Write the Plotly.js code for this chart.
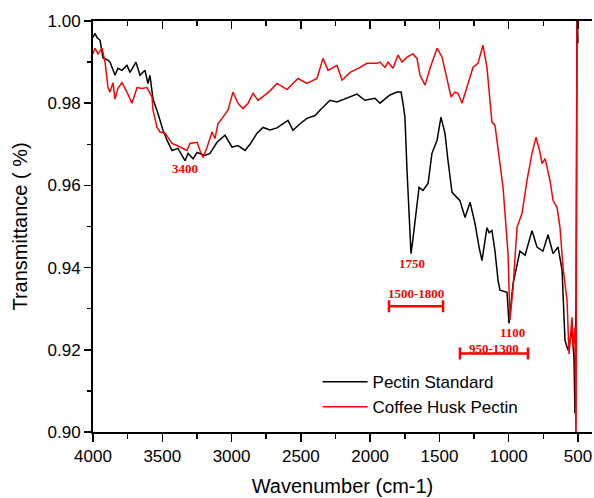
<!DOCTYPE html>
<html>
<head>
<meta charset="utf-8">
<script src="https://cdn.plot.ly/plotly-3.0.1.min.js"></script>
<style>html,body{margin:0;padding:0;background:#fff;}#chart{width:594px;height:498px;}</style>
</head>
<body>
<div id="chart"></div>
<script>
// Pectin Standard (black)
const stdWave = [4000,3986,3971,3949,3928,3892,3877,3841,3820,3791,3755,3733,3690,3661,3625,3603,3589,3567,3531,3495,3466,3430,3387,3350,3336,3314,3278,3249,3228,3192,3156,3105,3047,2997,2954,2903,2867,2816,2773,2723,2672,2593,2557,2506,2456,2398,2362,2290,2239,2167,2095,2037,1965,1929,1857,1806,1777,1763,1749,1734,1720,1705,1691,1676,1647,1619,1582,1554,1517,1489,1460,1438,1409,1352,1315,1279,1243,1214,1193,1157,1142,1121,1099,1077,1063,1012,998,969,919,882,832,796,753,716,680,644,615,594,572,558,543,529,522,514,507,500];
const stdT = [0.996,0.997,0.996,0.9953,0.991,0.9905,0.990,0.9868,0.9885,0.988,0.9892,0.9875,0.990,0.9868,0.988,0.9848,0.9868,0.981,0.9775,0.9734,0.971,0.9685,0.969,0.9666,0.966,0.9678,0.9665,0.968,0.9678,0.9673,0.9678,0.9705,0.9722,0.9693,0.9697,0.9685,0.970,0.9727,0.9741,0.9735,0.974,0.9758,0.9734,0.975,0.9763,0.977,0.9783,0.9807,0.9803,0.9812,0.9822,0.9807,0.9812,0.980,0.982,0.9827,0.9827,0.980,0.9766,0.9637,0.952,0.9434,0.947,0.9515,0.9595,0.9588,0.9605,0.9678,0.971,0.9766,0.9727,0.966,0.9583,0.9563,0.9522,0.9559,0.9507,0.945,0.9417,0.9497,0.9485,0.949,0.944,0.9369,0.9345,0.934,0.9264,0.936,0.944,0.943,0.949,0.945,0.944,0.948,0.9434,0.945,0.9394,0.9223,0.9199,0.922,0.9248,0.918,0.9045,0.931,1.003,0.9946];

// Coffee Husk Pectin (red)
const huskWave = [4000,3986,3964,3935,3913,3892,3877,3856,3841,3820,3791,3755,3719,3682,3646,3610,3574,3567,3538,3516,3480,3430,3394,3350,3322,3300,3249,3228,3206,3177,3141,3120,3098,3062,3026,2990,2954,2918,2881,2845,2809,2744,2723,2672,2600,2521,2456,2384,2340,2304,2239,2203,2145,2073,2023,1950,1929,1893,1871,1835,1799,1770,1734,1691,1662,1640,1604,1568,1517,1481,1445,1416,1388,1366,1337,1301,1258,1222,1186,1157,1121,1099,1077,1041,1005,991,969,940,904,868,832,803,774,760,738,702,680,651,630,608,579,565,543,536,522,514,507];
const huskT = [0.992,0.9934,0.992,0.9934,0.990,0.9838,0.9827,0.985,0.981,0.9836,0.985,0.9827,0.980,0.9838,0.9836,0.9838,0.9815,0.9783,0.9741,0.973,0.9727,0.9702,0.9697,0.969,0.9685,0.9702,0.9705,0.9685,0.9668,0.9693,0.973,0.9714,0.975,0.9766,0.9783,0.9827,0.980,0.9787,0.980,0.9824,0.9807,0.9824,0.983,0.9848,0.9833,0.986,0.9848,0.986,0.9909,0.988,0.9892,0.9856,0.9875,0.9887,0.9897,0.9897,0.990,0.9887,0.990,0.9885,0.9917,0.990,0.9912,0.992,0.9909,0.9868,0.9844,0.9885,0.9934,0.9912,0.986,0.9815,0.9827,0.9824,0.980,0.9838,0.9887,0.9897,0.9941,0.9887,0.9754,0.9746,0.9693,0.9595,0.9434,0.9272,0.935,0.9498,0.9532,0.9612,0.9678,0.9717,0.968,0.9653,0.9665,0.9612,0.9563,0.9546,0.9498,0.940,0.932,0.919,0.9279,0.9206,0.9255,0.893,1.01];

// Peak labels
const peakLabels = ['3400','1750','1100'];
const peakWave = [3336,1698,976];
const peakT = [0.9641,0.941,0.9243];

// Range bars
const bandLabels = ['1500-1800','950-1300'];
const bandStart = [1864,1352];
const bandEnd = [1474,861];
const bandT = [0.9306,0.9191];
const bandLabelT = [0.9337,0.9203];

const red = '#ff0000';
const bandCenter = bandStart.map((s,i)=>(s+bandEnd[i])/2);
const bandHalf = bandStart.map((s,i)=>(s-bandEnd[i])/2);

const traces = [
  {x: stdWave, y: stdT, type:'scatter', mode:'lines', name:'Pectin Standard',
   line:{color:'#000000', width:1.5}, xaxis:'x', yaxis:'y'},
  {x: huskWave, y: huskT, type:'scatter', mode:'lines', name:'Coffee Husk Pectin',
   line:{color:red, width:1.5}, xaxis:'x2', yaxis:'y'},
  {x: bandCenter, y: bandT, type:'scatter', mode:'markers', showlegend:false,
   marker:{size:0.1, color:red},
   error_x:{type:'data', array:bandHalf, symmetric:true, color:red, thickness:2.5, width:6},
   xaxis:'x', yaxis:'y', hoverinfo:'skip'}
];

const annFont = {family:'"Liberation Serif", "Times New Roman", serif', size:13, color:red, weight:'bold'};
const annotations = [];
peakLabels.forEach((t,i)=>annotations.push({x:peakWave[i], y:peakT[i], xref:'x', yref:'y', text:'<b>'+t+'</b>', showarrow:false, font:annFont}));
bandLabels.forEach((t,i)=>annotations.push({x:bandCenter[i], y:bandLabelT[i], xref:'x', yref:'y', text:'<b>'+t+'</b>', showarrow:false, font:annFont}));

const tickFont = {family:'Arial, "Liberation Sans", sans-serif', size:17, color:'#000'};
const titleFont = {family:'Arial, "Liberation Sans", sans-serif', size:20, color:'#000'};

const layout = {
  width:594, height:498,
  margin:{l:93, r:2, t:21, b:66, pad:0},
  paper_bgcolor:'#fff', plot_bgcolor:'#fff',
  showlegend:true,
  legend:{x:0.45, y:0.165, xanchor:'left', yanchor:'top', bgcolor:'rgba(0,0,0,0)',
          font:{family:'Arial, "Liberation Sans", sans-serif', size:17, color:'#000'},
          itemwidth:45, tracegroupgap:0},
  xaxis:{range:[4000,399], tick0:0, dtick:500, ticks:'outside', ticklen:8, tickwidth:1.5, tickcolor:'#000',
         showline:true, linewidth:2, linecolor:'#000', showgrid:false, zeroline:false,
         minor:{dtick:250, tick0:0, ticks:'outside', ticklen:5, tickwidth:1.5, tickcolor:'#000', showgrid:false},
         tickfont:tickFont, title:{text:'Wavenumber (cm-1)', font:titleFont, standoff:14}},
  xaxis2:{range:[4000,399], overlaying:'x', side:'top', anchor:'y', tick0:0, dtick:500, ticks:'inside', ticklen:8, tickwidth:1.5, tickcolor:'#000',
         showline:true, linewidth:2, linecolor:'#000', showgrid:false, zeroline:false, showticklabels:false,
         minor:{dtick:250, tick0:0, ticks:'inside', ticklen:5, tickwidth:1.5, tickcolor:'#000', showgrid:false}},
  yaxis:{range:[0.90,1.00], tick0:0.9, dtick:0.02, tickformat:'.2f', ticks:'outside', ticklen:7, tickwidth:1.5, tickcolor:'#000',
         showline:true, linewidth:2, linecolor:'#000', showgrid:false, zeroline:false,
         minor:{dtick:0.01, ticks:'outside', ticklen:4, tickwidth:1.5, tickcolor:'#000', showgrid:false},
         tickfont:tickFont, title:{text:'Transmittance ( %)', font:titleFont, standoff:15}},
  annotations: annotations
};

Plotly.newPlot('chart', traces, layout, {displayModeBar:false, staticPlot:true});
</script>
</body>
</html>
